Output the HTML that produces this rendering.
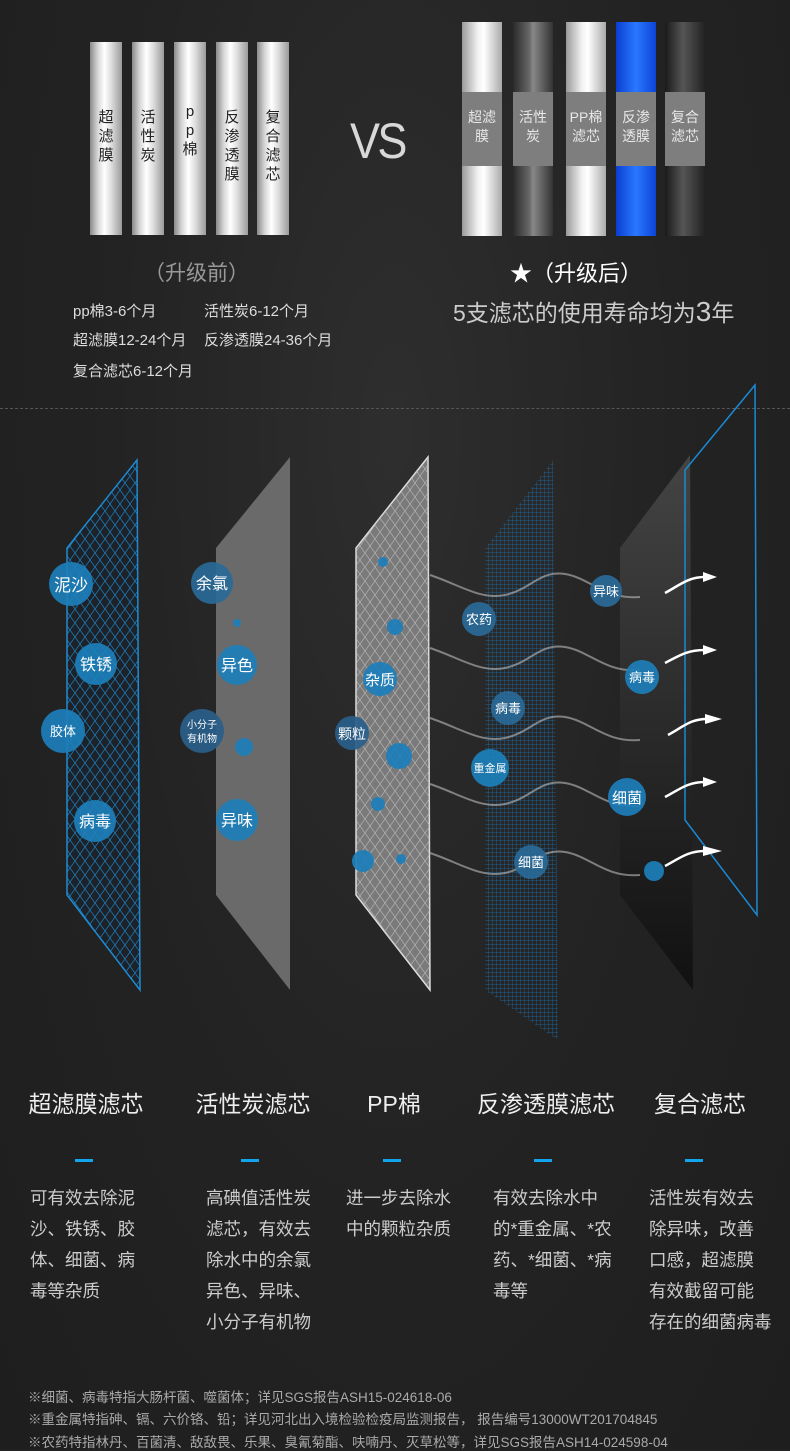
<!DOCTYPE html>
<html><head><meta charset="utf-8">
<style>
*{margin:0;padding:0;box-sizing:border-box}
body{width:790px;height:1449px;background:#222;overflow:hidden;font-family:"Liberation Sans","Noto Sans CJK SC",sans-serif;position:relative;color:#ddd}
.bg{position:absolute;inset:0;background:radial-gradient(ellipse at 50% 30%,#2e2e2e 0%,#232323 50%,#1e1e1e 100%)}
.a{position:absolute;white-space:nowrap}
.cyl{position:absolute;top:42px;width:32px;height:193px;background:linear-gradient(90deg,#8a8a8a 0%,#d8d8d8 25%,#fff 45%,#e0e0e0 65%,#9a9a9a 100%)}
.cyl span{position:absolute;left:0;width:32px;text-align:center;color:#222;font-size:15px;line-height:19px;top:66px}
.rc{position:absolute;top:22px;width:40px;height:214px}
.rc .band{position:absolute;top:70px;left:0;width:40px;height:74px;background:#7e7e7e;color:#e8e8e8;font-size:14px;line-height:19px;text-align:center;padding-top:16px}
.t{position:absolute;top:1085px;font-size:23px;color:#eee;text-align:center;width:180px}
.d{position:absolute;top:1159px;width:18px;height:3px;background:#12a4ec}
.p{position:absolute;top:1183px;font-size:17.5px;line-height:31px;color:#ccc;white-space:nowrap}
.f{position:absolute;left:28px;font-size:13.5px;color:#aaa;white-space:nowrap}
</style></head><body>
<div class="bg"></div>

<div class="cyl" style="left:90px"><span>超<br>滤<br>膜</span></div>
<div class="cyl" style="left:132px"><span>活<br>性<br>炭</span></div>
<div class="cyl" style="left:174px"><span style="top:60px">p<br>p<br>棉</span></div>
<div class="cyl" style="left:216px"><span>反<br>渗<br>透<br>膜</span></div>
<div class="cyl" style="left:257px"><span>复<br>合<br>滤<br>芯</span></div>

<div class="a" style="left:350px;top:112px;font-size:50px;color:#d8d8d8;letter-spacing:-3px;transform:scaleX(0.9);transform-origin:left">VS</div>

<div class="rc" style="left:462px;background:linear-gradient(90deg,#9a9a9a,#f2f2f2 40%,#fff 55%,#aaa)"><div class="band">超滤<br>膜</div></div>
<div class="rc" style="left:513px;background:linear-gradient(90deg,#2a2a2a,#666 40%,#888 50%,#333)"><div class="band">活性<br>炭</div></div>
<div class="rc" style="left:566px;background:linear-gradient(90deg,#9a9a9a,#f2f2f2 40%,#fff 55%,#aaa)"><div class="band">PP棉<br>滤芯</div></div>
<div class="rc" style="left:616px;background:linear-gradient(90deg,#0a3ed0,#2a78ff 50%,#0c44d8)"><div class="band">反渗<br>透膜</div></div>
<div class="rc" style="left:665px;background:linear-gradient(90deg,#1a1a1a,#555 45%,#222)"><div class="band">复合<br>滤芯</div></div>

<div class="a" style="left:144px;top:257px;font-size:21px;color:#999">（升级前）</div>
<div class="a" style="left:73px;top:300px;font-size:15px;color:#ddd">pp棉3-6个月</div>
<div class="a" style="left:204px;top:300px;font-size:15px;color:#ddd">活性炭6-12个月</div>
<div class="a" style="left:73px;top:329px;font-size:15px;color:#ddd">超滤膜12-24个月</div>
<div class="a" style="left:204px;top:329px;font-size:15px;color:#ddd">反渗透膜24-36个月</div>
<div class="a" style="left:73px;top:360px;font-size:15px;color:#ddd">复合滤芯6-12个月</div>

<div class="a" style="left:510px;top:256px;font-size:22px;color:#fff">★（升级后）</div>
<div class="a" style="left:453px;top:294px;font-size:23px;color:#ccc">5支滤芯的使用寿命均为<span style="font-size:28px">3</span>年</div>

<div class="a" style="left:0;top:408px;width:790px;border-top:1px dashed #555"></div>

<svg class="a" style="left:0;top:380px" width="790" height="680" viewBox="0 380 790 680">
<defs>
<pattern id="mesh" width="10" height="14" patternUnits="userSpaceOnUse"><path d="M0 0L10 14M10 0L0 14" stroke="#1f7fc0" stroke-width="0.7" fill="none"/></pattern>
<pattern id="grid" width="4" height="4" patternUnits="userSpaceOnUse"><path d="M0 0H4M0 0V4" stroke="#1a78c0" stroke-width="0.7" fill="none"/></pattern>
<pattern id="wmesh" width="10" height="14" patternUnits="userSpaceOnUse"><path d="M0 0L10 14M10 0L0 14" stroke="#bbb" stroke-width="0.6" fill="none"/></pattern>
<linearGradient id="g5" x1="0" y1="0" x2="0" y2="1"><stop offset="0" stop-color="#444"/><stop offset="1" stop-color="#111"/></linearGradient>
</defs>
<polygon points="137,460 67,548 67,895 140,990" fill="#1c2228" />
<polygon points="137,460 67,548 67,895 140,990" fill="url(#mesh)" stroke="#1f8ad0" stroke-width="1.5"/>
<polygon points="290,457 216,548 216,895 290,990" fill="#6a6a6a"/>
<polygon points="428,457 356,548 356,895 430,990" fill="#7a7a7a" stroke="#ddd" stroke-width="1.5"/>
<polygon points="428,457 356,548 356,895 430,990" fill="url(#wmesh)"/>
<polygon points="553,460 485,548 485,990 558,1040" fill="url(#grid)" opacity="0.9"/>
<polygon points="690,455 620,548 620,895 693,990" fill="url(#g5)"/>
<polygon points="755,385 685,470 685,820 757,915" fill="none" stroke="#1a8ad4" stroke-width="1.5"/>
<g fill="none" stroke="#bbb" stroke-width="2" opacity="0.6">
<path d="M430,575 C460,585 480,600 505,595 C530,590 540,570 565,574 C590,578 605,600 640,597"/>
<path d="M430,648 C460,658 480,673 505,668 C530,663 540,643 565,647 C590,651 605,673 640,670"/>
<path d="M430,718 C460,728 480,743 505,738 C530,733 540,713 565,717 C590,721 605,743 640,740"/>
<path d="M430,784 C460,794 480,809 505,804 C530,799 540,779 565,783 C590,787 605,809 640,806"/>
<path d="M430,853 C460,863 480,878 505,873 C530,868 540,848 565,852 C590,856 605,878 640,875"/>
</g>
<g fill="none" stroke="#fff" stroke-width="2.5">
<path d="M665,593 C680,585 688,577 705,577"/>
<path d="M665,663 C680,655 688,650 705,650"/>
<path d="M668,735 C683,727 690,719 707,719"/>
<path d="M665,797 C680,789 688,782 705,782"/>
<path d="M665,866 C680,858 688,851 705,851"/>
</g>
<g fill="#fff">
<polygon points="703,572 717,577 703,582"/><polygon points="703,645 717,650 703,655"/><polygon points="705,714 722,719 705,724"/><polygon points="703,777 717,782 703,787"/><polygon points="703,846 722,851 703,856"/>
</g>
<g fill="#1d7fba" opacity="0.92">
<circle cx="71" cy="584" r="22"/><circle cx="96" cy="664" r="21"/><circle cx="63" cy="731" r="22"/><circle cx="95" cy="821" r="21"/>
<circle cx="212" cy="583" r="21" fill="#2a6a98"/><circle cx="237" cy="623" r="4"/><circle cx="237" cy="665" r="20"/><circle cx="202" cy="731" r="22" fill="#2a5f8a"/><circle cx="244" cy="747" r="9"/><circle cx="237" cy="820" r="21"/>
<circle cx="383" cy="562" r="5"/><circle cx="395" cy="627" r="8"/><circle cx="380" cy="679" r="17"/><circle cx="352" cy="733" r="17" fill="#2a5f8a"/><circle cx="399" cy="756" r="13"/><circle cx="378" cy="804" r="7"/><circle cx="363" cy="861" r="11"/><circle cx="401" cy="859" r="5"/>
<circle cx="479" cy="619" r="17" fill="#2a6a98"/><circle cx="508" cy="708" r="17" fill="#2a6a98"/><circle cx="490" cy="768" r="19"/><circle cx="531" cy="862" r="17" fill="#2a6a98"/>
<circle cx="606" cy="591" r="16" fill="#2a6a98"/><circle cx="642" cy="677" r="17"/><circle cx="627" cy="797" r="19"/><circle cx="654" cy="871" r="10"/>
</g>
<g fill="#fff" font-family="Liberation Sans,Noto Sans CJK SC,sans-serif" text-anchor="middle">
<text x="71" y="591" font-size="17">泥沙</text><text x="96" y="670" font-size="16">铁锈</text><text x="63" y="736" font-size="13">胶体</text><text x="95" y="827" font-size="16">病毒</text>
<text x="212" y="589" font-size="16">余氯</text><text x="237" y="671" font-size="16">异色</text><text x="202" y="728" font-size="10">小分子</text><text x="202" y="742" font-size="10">有机物</text><text x="237" y="826" font-size="16">异味</text>
<text x="380" y="685" font-size="15">杂质</text><text x="352" y="739" font-size="14">颗粒</text>
<text x="479" y="624" font-size="13">农药</text><text x="508" y="713" font-size="13">病毒</text><text x="490" y="772" font-size="11">重金属</text><text x="531" y="867" font-size="13">细菌</text>
<text x="606" y="596" font-size="13">异味</text><text x="642" y="682" font-size="13">病毒</text><text x="627" y="803" font-size="15">细菌</text>
</g>
</svg>

<div class="t" style="left:-4px">超滤膜滤芯</div>
<div class="t" style="left:163px">活性炭滤芯</div>
<div class="t" style="left:304px">PP棉</div>
<div class="t" style="left:456px">反渗透膜滤芯</div>
<div class="t" style="left:610px">复合滤芯</div>
<div class="d" style="left:75px"></div><div class="d" style="left:241px"></div><div class="d" style="left:383px"></div><div class="d" style="left:534px"></div><div class="d" style="left:685px"></div>

<div class="p" style="left:30px">可有效去除泥<br>沙、铁锈、胶<br>体、细菌、病<br>毒等杂质</div>
<div class="p" style="left:206px">高碘值活性炭<br>滤芯，有效去<br>除水中的余氯<br>异色、异味、<br>小分子有机物</div>
<div class="p" style="left:346px">进一步去除水<br>中的颗粒杂质</div>
<div class="p" style="left:493px">有效去除水中<br>的*重金属、*农<br>药、*细菌、*病<br>毒等</div>
<div class="p" style="left:649px">活性炭有效去<br>除异味，改善<br>口感，超滤膜<br>有效截留可能<br>存在的细菌病毒</div>

<div class="f" style="top:1386px">※细菌、病毒特指大肠杆菌、噬菌体；详见SGS报告ASH15-024618-06</div>
<div class="f" style="top:1408px">※重金属特指砷、镉、六价铬、铅；详见河北出入境检验检疫局监测报告， 报告编号13000WT201704845</div>
<div class="f" style="top:1431px">※农药特指林丹、百菌清、敌敌畏、乐果、臭氰菊酯、呋喃丹、灭草松等，详见SGS报告ASH14-024598-04</div>
</body></html>
